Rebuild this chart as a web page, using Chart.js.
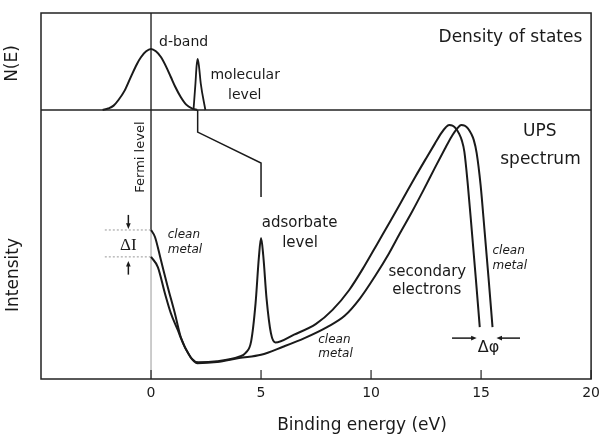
<!DOCTYPE html>
<html>
<head>
<meta charset="utf-8">
<script src="https://cdn.jsdelivr.net/npm/chart.js@4.4.0/dist/chart.umd.min.js"></script>
<style>
  html, body { margin: 0; padding: 0; background: #fff; }
</style>
</head>
<body>
<canvas id="upsChart" width="606" height="439"></canvas>
<script>
// density of states, upper panel (binding energy in eV, N(E) in arbitrary units)
const dBandE = [-2.2, -1.95, -1.7, -1.48, -1.2, -0.9, -0.65, -0.45, -0.22, 0, 0.22, 0.45, 0.68, 0.9, 1.1, 1.35, 1.6, 1.88, 2.1];
const dBandN = [0, 1.5, 4.5, 10.3, 20, 35, 47, 54.6, 60.5, 62.9, 60.5, 54.6, 45, 34, 24, 13.4, 5.5, 1.5, 0];
const molE = [1.93, 2.02, 2.07, 2.12, 2.18, 2.26, 2.47];
const molN = [0, 27.5, 45, 52.6, 45, 27.5, 0];

// UPS spectra, lower panel (intensity in arbitrary units)
const cleanE = [0, 0.18, 0.45, 0.76, 1.08, 1.35, 1.79, 2.1, 3.0, 4.0, 5.0, 6.0, 7.0, 8.0, 8.8,
  9.5, 10.2, 10.8, 11.3, 11.85, 12.4, 12.9, 13.35, 13.65, 13.9, 14.1, 14.25, 14.4, 14.55, 14.67,
  14.8, 14.98, 15.16, 15.34, 15.52];
const cleanI = [55.4, 52.8, 44.2, 34.2, 24.5, 15.6, 8.2, 5.9, 6.3, 7.8, 9.0, 12.0, 15.3, 19.3, 23.5,
  30, 38.5, 46.5, 54, 62, 70.5, 78.5, 85.5, 90, 93, 94.4, 94.2, 93.2, 91.2, 88.8,
  84, 72, 55, 37.5, 19.3];
const adsE = [0, 0.31, 0.63, 0.9, 1.2, 1.5, 1.85, 2.15, 3.0, 4.0, 4.3, 4.55, 4.75, 4.9, 5.0, 5.1,
  5.25, 5.45, 5.65, 6.5, 7.5, 8.25, 9.0, 9.7, 10.3, 10.9, 11.45, 12.0, 12.5, 12.9, 13.2, 13.4,
  13.55, 13.7, 13.85, 14.0, 14.12, 14.24, 14.4, 14.58, 14.76, 14.94];
const adsI = [45.4, 41.6, 31.9, 24.5, 18.5, 12.5, 7.6, 6.2, 6.6, 8.3, 9.7, 14, 28, 45, 52.4, 46,
  30, 17, 13.6, 16.5, 20.5, 25.7, 33, 42, 50.5, 59, 67, 75, 82, 87.5, 91.5, 93.6,
  94.4, 94.2, 93.2, 91.2, 88.8, 84.5, 72, 55, 37.5, 19.3];

const xTicks = [0, 5, 10, 15, 20];
const fermiLevel = 0;
const molecularLevel = 2.12;
const adsorbateLevel = 5.0;

const FONT = 'DejaVu Sans';
const INK = '#1a1a1a';

const toPoints = (xs, ys) => xs.map((x, i) => ({ x, y: ys[i] }));

// connector from molecular level down to adsorbate level
const connector = [
  { x: molecularLevel, y: 100 },
  { x: molecularLevel, y: 91.8 },
  { x: adsorbateLevel, y: 80.3 },
  { x: adsorbateLevel, y: 67.7 },
];

/* decorations: frame, fermi line, ticks, labels and arrows */
const upsDecor = {
  id: 'upsDecor',
  beforeDatasetsDraw(chart) {
    const { ctx, chartArea: a, scales: { x, yInt } } = chart;
    const fx = x.getPixelForValue(fermiLevel);
    const edge = yInt.getPixelForValue(cleanI[0]);
    ctx.save();
    ctx.strokeStyle = '#333';
    ctx.lineWidth = 1.5;
    ctx.beginPath();
    ctx.moveTo(fx, a.top);
    ctx.lineTo(fx, edge);
    ctx.stroke();
    ctx.strokeStyle = '#999';
    ctx.lineWidth = 1;
    ctx.beginPath();
    ctx.moveTo(fx, edge);
    ctx.lineTo(fx, a.bottom);
    ctx.stroke();
    ctx.restore();
  },
  afterDatasetsDraw(chart) {
    const { ctx, chartArea: a, scales: { x, yInt, yDos } } = chart;
    ctx.save();

    // frame and panel divider
    ctx.strokeStyle = '#222';
    ctx.lineWidth = 1.5;
    ctx.strokeRect(a.left, a.top, a.right - a.left, a.bottom - a.top);
    ctx.beginPath();
    ctx.moveTo(a.left, yInt.top);
    ctx.lineTo(a.right, yInt.top);
    ctx.stroke();

    // inward ticks on the energy axis
    ctx.lineWidth = 1.2;
    xTicks.forEach(v => {
      const px = x.getPixelForValue(v);
      ctx.beginPath();
      ctx.moveTo(px, a.bottom);
      ctx.lineTo(px, a.bottom - 9);
      ctx.stroke();
    });

    const text = (str, ev, scale, val, { size = 15, align = 'center', style = '', family = FONT, rot = 0 } = {}) => {
      ctx.save();
      ctx.font = `${style} ${size}px "${family}"`;
      ctx.fillStyle = INK;
      ctx.textAlign = align;
      ctx.textBaseline = 'middle';
      ctx.translate(x.getPixelForValue(ev), scale.getPixelForValue(val));
      if (rot) ctx.rotate(rot);
      ctx.fillText(str, 0, 0);
      ctx.restore();
    };

    const arrow = (x0, y0, x1, y1, head = 6) => {
      const ang = Math.atan2(y1 - y0, x1 - x0);
      ctx.save();
      ctx.strokeStyle = INK;
      ctx.fillStyle = INK;
      ctx.lineWidth = 1.5;
      ctx.beginPath();
      ctx.moveTo(x0, y0);
      ctx.lineTo(x1 - Math.cos(ang) * head * 0.6, y1 - Math.sin(ang) * head * 0.6);
      ctx.stroke();
      ctx.beginPath();
      ctx.moveTo(x1, y1);
      ctx.lineTo(x1 - Math.cos(ang - 0.4) * head, y1 - Math.sin(ang - 0.4) * head);
      ctx.lineTo(x1 - Math.cos(ang + 0.4) * head, y1 - Math.sin(ang + 0.4) * head);
      ctx.closePath();
      ctx.fill();
      ctx.restore();
    };

    // upper panel
    text('d-band', 1.48, yDos, 70.1, { size: 14 });
    text('molecular', 4.28, yDos, 36.1, { size: 14 });
    text('level', 4.26, yDos, 15.5, { size: 14 });
    text('Density of states', 19.6, yDos, 74.2, { size: 17, align: 'right' });

    // lower panel
    text('UPS', 17.67, yInt, 91.8, { size: 17 });
    text('spectrum', 17.7, yInt, 81.4, { size: 17 });
    text('Fermi level', -0.45, yInt, 82.5, { size: 13, rot: -Math.PI / 2 });
    text('adsorbate', 6.75, yInt, 58, { size: 15 });
    text('level', 6.77, yInt, 50.6, { size: 15 });
    text('secondary', 12.56, yInt, 39.8, { size: 15 });
    text('electrons', 12.53, yInt, 33.1, { size: 15 });
    text('clean', 0.76, yInt, 53.5, { size: 12, align: 'left', style: 'italic' });
    text('metal', 0.76, yInt, 48.0, { size: 12, align: 'left', style: 'italic' });
    text('clean', 7.6, yInt, 14.5, { size: 12, align: 'left', style: 'italic' });
    text('metal', 7.6, yInt, 9.3, { size: 12, align: 'left', style: 'italic' });
    text('clean', 15.52, yInt, 47.6, { size: 12, align: 'left', style: 'italic' });
    text('metal', 15.52, yInt, 42.0, { size: 12, align: 'left', style: 'italic' });

    // intensity drop and work function change
    text('\u0394I', -1.03, yInt, 49.8, { size: 17, family: 'Liberation Serif' });
    const dIx = x.getPixelForValue(-1.03);
    arrow(dIx, yInt.getPixelForValue(61), dIx, yInt.getPixelForValue(55.8));
    arrow(dIx, yInt.getPixelForValue(38.8), dIx, yInt.getPixelForValue(43.9));
    text('\u0394\u03c6', 15.34, yInt, 11.5, { size: 16 });
    const dpy = yInt.getPixelForValue(15.2);
    arrow(x.getPixelForValue(13.68), dpy, x.getPixelForValue(14.8), dpy);
    arrow(x.getPixelForValue(16.77), dpy, x.getPixelForValue(15.7), dpy);

    // axis titles
    ctx.fillStyle = INK;
    ctx.textAlign = 'center';
    ctx.textBaseline = 'middle';
    ctx.font = `17px "${FONT}"`;
    ctx.fillText('Binding energy (eV)', 362, 426);
    ctx.save();
    ctx.translate(13, (yDos.top + yDos.bottom) / 2 + 2);
    ctx.rotate(-Math.PI / 2);
    ctx.fillText('N(E)', 0, 0);
    ctx.restore();
    ctx.save();
    ctx.translate(14, 275);
    ctx.rotate(-Math.PI / 2);
    ctx.fillText('Intensity', 0, 0);
    ctx.restore();

    ctx.restore();
  },
};

const hiddenY = {
  type: 'linear',
  min: 0,
  max: 100,
  position: 'left',
  stack: 'panels',
  ticks: { display: false },
  grid: { display: false, drawTicks: false },
  border: { display: false },
  afterFit(s) { s.width = 0; },
};

const curve = (data, yAxisID, extra = {}) => ({
  data,
  yAxisID,
  xAxisID: 'x',
  borderColor: INK,
  borderWidth: 2,
  pointRadius: 0,
  fill: false,
  cubicInterpolationMode: 'monotone',
  clip: 4,
  ...extra,
});

const straight = { cubicInterpolationMode: 'default', tension: 0 };

new Chart(document.getElementById('upsChart').getContext('2d'), {
  type: 'line',
  data: {
    datasets: [
      curve(toPoints(dBandE, dBandN), 'yDos'),
      curve(toPoints(molE, molN), 'yDos', { borderWidth: 1.8 }),
      curve(toPoints(cleanE, cleanI), 'yInt'),
      curve(toPoints(adsE, adsI), 'yInt'),
      curve(connector, 'yInt', { borderWidth: 1.5, ...straight }),
      curve([{ x: -2.1, y: cleanI[0] }, { x: fermiLevel, y: cleanI[0] }], 'yInt',
        { borderWidth: 1, borderColor: '#999', borderDash: [2, 2], ...straight }),
      curve([{ x: -2.1, y: adsI[0] }, { x: fermiLevel, y: adsI[0] }], 'yInt',
        { borderWidth: 1, borderColor: '#999', borderDash: [2, 2], ...straight }),
    ],
  },
  options: {
    responsive: false,
    animation: false,
    devicePixelRatio: 1,
    layout: { padding: { left: 41, right: 8, top: 13, bottom: 0 } },
    plugins: { legend: { display: false }, tooltip: { enabled: false } },
    scales: {
      x: {
        type: 'linear',
        min: -5,
        max: 20,
        afterBuildTicks(s) { s.ticks = xTicks.map(value => ({ value })); },
        ticks: {
          font: { family: FONT, size: 14 },
          color: INK,
          padding: 6,
          maxRotation: 0,
          autoSkip: false,
        },
        grid: { display: false, drawTicks: false },
        border: { display: false },
        afterFit(s) { s.height = 60; },
      },
      yInt: { ...hiddenY, stackWeight: 269 },
      yDos: { ...hiddenY, stackWeight: 97 },
    },
  },
  plugins: [upsDecor],
});
</script>
</body>
</html>
